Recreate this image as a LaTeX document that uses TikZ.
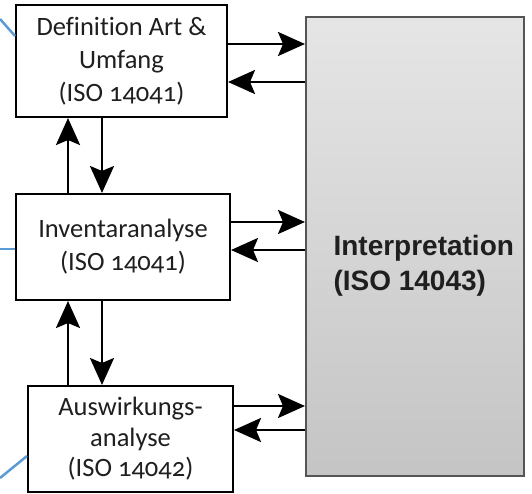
\documentclass[tikz,border=0pt]{standalone}
\usepackage{fontspec}
\setmainfont{Carlito}[Numbers=OldStyle, Ligatures=NoCommon]
\newfontfamily\headfont{Liberation Sans}
\usetikzlibrary{arrows.meta}
\definecolor{linkblue}{HTML}{5B9BD5}
\definecolor{frame}{HTML}{555555}
\tikzset{
  phase/.style={draw=black, line width=2pt, fill=white, align=center,
    inner sep=0pt, font=\fontsize{26.5}{33}\selectfont, text=black!88},
  flow/.style={line width=2.7pt, -{Stealth[length=27pt, width=24pt, inset=5pt]}},
  link/.style={draw=linkblue, line width=2.5pt},
}
\begin{document}
\begin{tikzpicture}[x=1pt, y=-1pt]
\useasboundingbox (0,0) rectangle (532,494);

% interpretation block with vertical grey shading
\node[draw=frame, line width=2pt, top color=black!10, bottom color=black!23,
      minimum width=218pt, minimum height=459pt, inner sep=0pt] (interp) at (415,246.5) {};
\node[anchor=base west, align=left, font=\headfont\bfseries\fontsize{28}{35}\selectfont,
      text=black!88] (interptext) at (330,290)
  {Interpretation\\(ISO 14043)};

% phase boxes
\node[phase, minimum width=211pt, minimum height=112pt] (def) at (121.5,61)
  {Definition Art \&\\Umfang\\(ISO 14041)};
\node[phase, minimum width=214pt, minimum height=106pt] (inv) at (123,247)
  {Inventaranalyse\\(ISO 14041)};
\node[phase, minimum width=205pt, minimum height=106pt, font=\fontsize{26.5}{30.5}\selectfont] (aus) at (130.5,439)
  {Auswirkungs-\\analyse\\(ISO 14042)};

% levels of the horizontal connectors
\coordinate (h1) at (0,44);
\coordinate (h2) at (0,82);
\coordinate (h3) at (0,222);
\coordinate (h4) at (0,250);
\coordinate (h5) at (0,406);
\coordinate (h6) at (0,430);
% positions of the vertical connectors
\coordinate (vup) at (68,0);
\coordinate (vdn) at (102,0);

% exchange with interpretation
\draw[flow] (def.east |- h1) -- (interp.west |- h1);
\draw[flow] (interp.west |- h2) -- (def.east |- h2);
\draw[flow] (inv.east |- h3) -- (interp.west |- h3);
\draw[flow] (interp.west |- h4) -- (inv.east |- h4);
\draw[flow] (aus.east |- h5) -- (interp.west |- h5);
\draw[flow] (interp.west |- h6) -- (aus.east |- h6);

% exchange between the phases
\draw[flow] (vup |- inv.north) -- (vup |- def.south);
\draw[flow] (vdn |- def.south) -- (vdn |- inv.north);
\draw[flow] (vup |- aus.north) -- (vup |- inv.south);
\draw[flow] (vdn |- inv.south) -- (vdn |- aus.north);

% outgoing links at the left edge
\coordinate (l1) at (0,19);
\coordinate (l2) at (0,249);
\coordinate (l3) at (0,478);
\draw[link] (l1) -- (def.west |- 0,36);
\draw[link] (l2) -- (inv.west |- l2);
\draw[link] (l3) -- (aus.west |- 0,456);
\end{tikzpicture}
\end{document}
